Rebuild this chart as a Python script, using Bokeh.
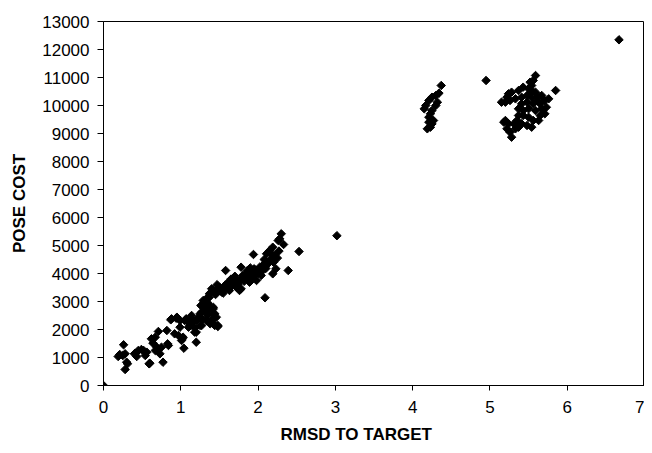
import math
from bokeh.plotting import figure
from bokeh.models import Range1d, SingleIntervalTicker, Title
from bokeh.embed import file_html
from bokeh.resources import INLINE

# Cluster near the target (low RMSD)
near_rmsd = [0.26, 0.19, 0.25, 0.28, 0.31, 0.40, 0.43, 0.49, 0.56, 0.59, 0.62, 0.64, 0.67, 0.73, 0.71,
             0.77, 0.75, 0.84, 0.82, 0.87, 0.94, 0.92, 0.97, 1.02, 1.04, 0.99, 1.05, 1.10, 1.14, 1.20,
             1.20, 1.25, 1.25, 1.27, 1.26, 1.29, 1.33, 1.40, 1.48, 1.42, 1.37, 1.40, 1.44, 1.50, 1.57,
             1.58, 1.63, 1.68, 1.72, 1.78, 1.78, 1.85, 1.91, 1.94, 1.95, 1.98, 2.02, 2.06, 2.09, 2.11,
             2.15, 2.17, 2.19, 2.23, 2.19, 2.26, 2.30, 2.33, 2.39, 2.53,
             0.21, 0.28, 0.30, 0.41, 0.45, 0.52, 0.54, 0.60, 0.67, 0.69, 0.83, 0.88, 0.95, 0.99, 1.03,
             1.01, 1.07, 1.12, 1.14, 1.18, 1.20, 1.25, 1.27, 1.31, 1.38, 1.38, 1.29, 1.44, 1.46, 1.42,
             2.28, 2.17, 2.08, 2.02, 1.93, 1.85, 1.76, 1.68, 1.59, 1.50, 1.42, 1.37, 1.33, 1.42, 1.44,
             1.40, 1.48, 1.80, 1.89, 1.72, 1.98, 2.04, 1.63, 1.53, 1.76,
             1.45, 1.52, 1.55, 1.60, 1.62, 1.66, 1.70, 1.74, 1.78, 1.82, 1.84, 1.88, 1.92, 1.96, 2.00,
             2.05, 2.10, 2.13, 2.20, 2.25, 2.27, 1.35, 1.31, 1.47, 1.65, 1.70, 1.86, 1.90, 2.08, 2.22,
             1.15, 1.08, 1.18, 1.28, 1.35, 1.36, 1.22]
near_cost = [1454, 1036, 1071, 571, 775, 1132, 1036, 1286, 1190, 775, 1668, 1511, 1250, 1132, 1929,
             832, 1368, 1429, 1964, 2346, 2404, 1846, 1786, 1668, 1332, 2321, 2321, 2082, 2382, 1546,
             1904, 2143, 2439, 2618, 2857, 3036, 2321, 2321, 2143, 2739, 3154, 3454, 3332, 3393, 3571,
             4107, 3571, 3689, 3750, 4225, 3454, 3811, 3929, 4679, 4168, 3750, 4107, 4286, 3132, 4704,
             4821, 4525, 3989, 4168, 4939, 5179, 5418, 5036, 4107, 4786,
             1107, 1132, 832, 1154, 1250, 1250, 1071, 796, 1725, 1368, 1489, 2382, 2439, 2082, 1725,
             1607, 2382, 2143, 2500, 1904, 2321, 2561, 2143, 2679, 2204, 2796, 2918, 2143, 2439, 2561,
             5239, 4704, 4346, 4225, 4046, 3868, 3750, 3632, 3511, 3511, 3393, 3275, 3096, 2796, 2561,
             2261, 2107, 3929, 3689, 3511, 4107, 3929, 3393, 3332, 3393,
             3250, 3450, 3300, 3650, 3480, 3560, 3720, 3620, 3800, 3720, 3980, 3850, 3790, 3950, 4000,
             4080, 4180, 4350, 4400, 4550, 4800, 2950, 2800, 3600, 3800, 3900, 4100, 4200, 4500, 4650,
             2250, 2300, 2050, 2350, 2500, 2700, 2400]

# Cluster around RMSD 4.2
mid_rmsd = [4.37, 4.34, 4.30, 4.25, 4.21, 4.17, 4.15, 4.32, 4.30, 4.25, 4.23, 4.21, 4.21, 4.25, 4.19,
            4.23, 4.27]
mid_cost = [10714, 10439, 10357, 10296, 10179, 10000, 9882, 10118, 10000, 9821, 9704, 9582, 9404, 9346,
            9168, 9225, 9464]

# Cluster around RMSD 5.5
far_rmsd = [5.59, 5.56, 5.54, 5.50, 5.43, 5.37, 5.28, 5.24, 5.22, 5.15, 5.20, 5.26, 5.33, 5.41, 5.48,
            5.52, 5.59, 5.61, 5.67, 5.71, 5.76, 5.85, 5.65, 5.56, 5.48, 5.41, 5.37, 5.43, 5.50, 5.59,
            5.67, 5.73, 5.71, 5.65, 5.63, 5.56, 5.50, 5.43, 5.37, 5.35, 5.41, 5.48, 5.54, 5.20, 5.24,
            5.18, 5.22, 5.26, 5.28, 5.33, 5.37, 5.31, 5.61, 5.54, 5.52, 5.54]
far_cost = [11071, 10893, 10714, 10596, 10654, 10536, 10475, 10418, 10296, 10118, 10118, 10179, 10239,
            10296, 10357, 10418, 10475, 10296, 10357, 10179, 10239, 10536, 10061, 10061, 10118, 10061,
            9882, 9821, 9882, 9821, 9882, 9939, 9704, 9643, 9464, 9464, 9582, 9643, 9643, 9464, 9346,
            9286, 9225, 9464, 9346, 9404, 9168, 9046, 8868, 9168, 9225, 9346, 10179, 10296, 10832, 10536]

# Isolated poses
lone_rmsd = [0.0, 3.02, 4.95, 6.67]
lone_cost = [0, 5350, 10893, 12346]

x_label = "RMSD TO TARGET"
y_label = "POSE COST"

xs = near_rmsd + mid_rmsd + far_rmsd + lone_rmsd
ys = near_cost + mid_cost + far_cost + lone_cost

p = figure(width=644, height=453, output_backend="svg", toolbar_location=None,
           x_range=Range1d(0, 7), y_range=Range1d(0, 13000),
           min_border_left=103, min_border_right=0, min_border_top=21, min_border_bottom=68,
           background_fill_color="white", border_fill_color="white")

p.scatter(xs, ys, marker="square", angle=math.pi / 4, size=6, color="black")

p.xgrid.visible = False
p.ygrid.visible = False
p.outline_line_color = "black"
p.outline_line_width = 1
p.outline_line_alpha = 1

p.xaxis.ticker = SingleIntervalTicker(interval=1, num_minor_ticks=0)
p.yaxis.ticker = SingleIntervalTicker(interval=1000, num_minor_ticks=0)
for ax in (p.xaxis, p.yaxis):
    ax.axis_line_color = "black"
    ax.axis_line_width = 1
    ax.major_tick_line_color = "black"
    ax.major_tick_in = 0
    ax.minor_tick_line_color = None
    ax.major_label_text_font = "Liberation Sans"
    ax.major_label_text_font_size = "17px"
    ax.major_label_text_color = "black"
p.xaxis.major_tick_out = 5
p.yaxis.major_tick_out = 6
p.xaxis.major_label_standoff = 10
p.yaxis.major_label_standoff = 8

p.yaxis.axis_label = y_label
p.yaxis.axis_label_text_font = "Liberation Sans"
p.yaxis.axis_label_text_font_style = "bold"
p.yaxis.axis_label_text_font_size = "17px"
p.yaxis.axis_label_text_color = "black"
p.yaxis.axis_label_standoff = 10

p.add_layout(Title(text=x_label, align="left", offset=177, text_font="Liberation Sans",
                   text_font_style="bold", text_font_size="17px", text_color="black",
                   standoff=14), "below")

open("out.html", "w").write(file_html(p, INLINE))
